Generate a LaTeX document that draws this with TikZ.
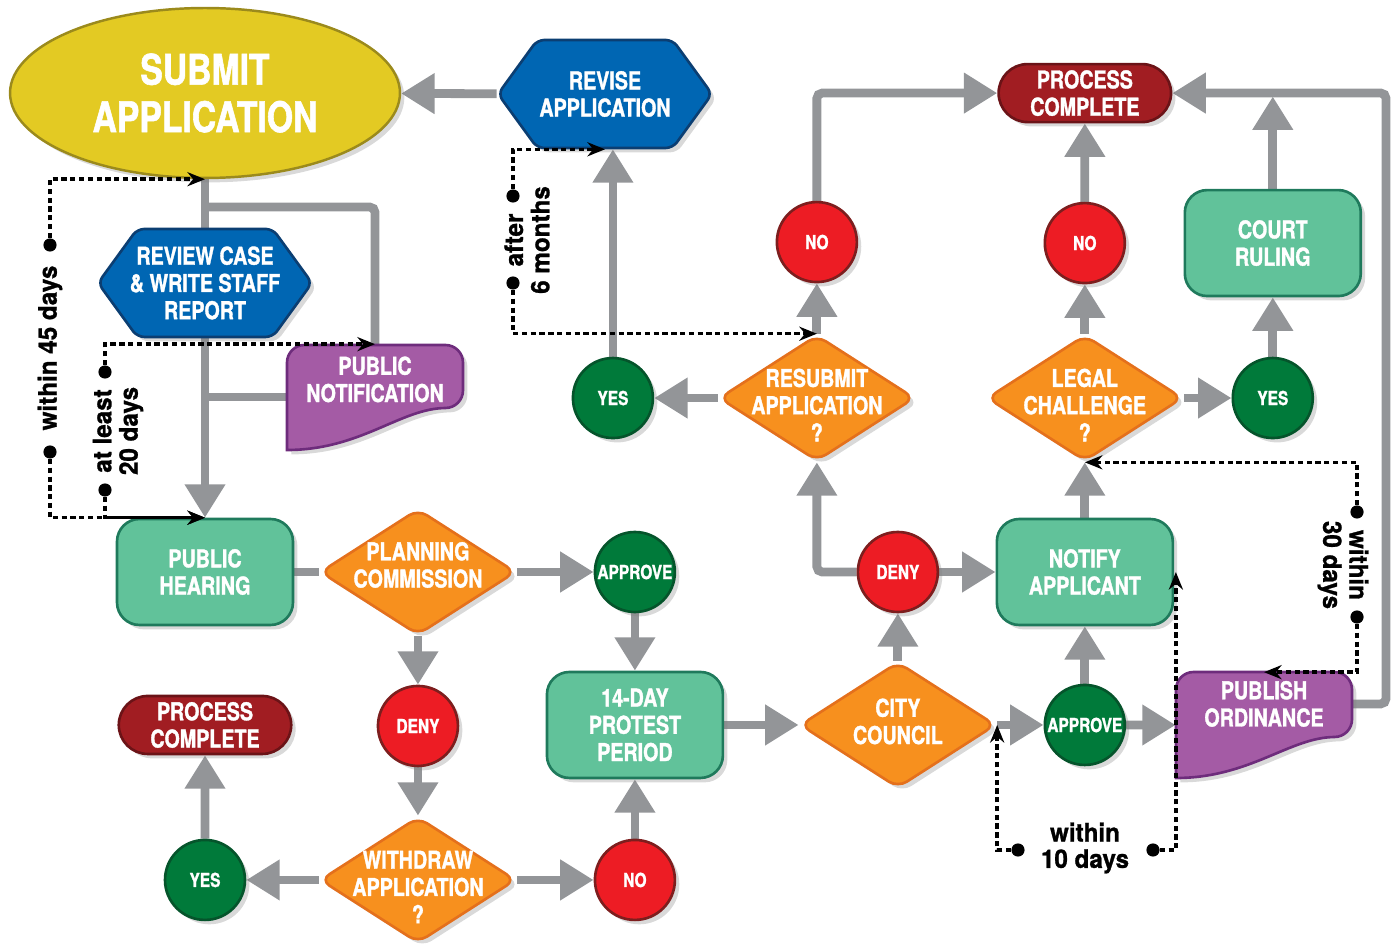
\documentclass[tikz,border=0pt]{standalone}
\usepackage{fontspec}
\newfontfamily\condfont{TeX Gyre Heros}[FakeStretch=0.8, FakeBold=1.3]
\newfontfamily\notefont{TeX Gyre Heros}[FakeStretch=0.95, FakeBold=1]
\usepackage{tikz}
\usetikzlibrary{arrows.meta, positioning, shapes.geometric, shapes.misc, shapes.symbols, shadows, backgrounds}

\definecolor{subYellow}{HTML}{E3CA23}
\definecolor{subEdge}{HTML}{9B8A1C}
\definecolor{revBlue}{HTML}{0066B3}
\definecolor{revEdge}{HTML}{0B3E72}
\definecolor{boxGreen}{HTML}{61C29A}
\definecolor{boxEdge}{HTML}{1F7A5C}
\definecolor{decOrange}{HTML}{F7901E}
\definecolor{decEdge}{HTML}{E4701C}
\definecolor{noRed}{HTML}{ED1C24}
\definecolor{noEdge}{HTML}{7D1E1E}
\definecolor{yesGreen}{HTML}{007A3A}
\definecolor{yesEdge}{HTML}{05542B}
\definecolor{endRed}{HTML}{A11D22}
\definecolor{endEdge}{HTML}{6B1317}
\definecolor{docPurple}{HTML}{A45BA5}
\definecolor{docEdge}{HTML}{6E2C7C}
\definecolor{flowGray}{HTML}{939598}

\begin{document}
\begin{tikzpicture}[x=0.02cm, y=-0.02cm, on grid]
  \tikzstyle{castshadow} = [drop shadow={opacity=0.3, shadow xshift=2.5pt, shadow yshift=-2.5pt}]
  \tikzstyle{txt} = [text=white, align=center, font={\condfont\bfseries\fontsize{14}{15.5}\selectfont}]
  \tikzstyle{oval} = [txt, castshadow, ellipse, draw=subEdge, line width=1.4pt, fill=subYellow, minimum width=7.8cm, minimum height=3.4cm, font={\condfont\bfseries\fontsize{24}{27}\selectfont}]
  \tikzstyle{box} = [txt, castshadow, rectangle, draw=boxEdge, line width=1.5pt, fill=boxGreen, rounded corners=0.45cm, minimum width=3.52cm, minimum height=2.12cm]
  \tikzstyle{stadium} = [txt, castshadow, rounded rectangle, draw=endEdge, line width=1.5pt, fill=endRed, minimum width=3.52cm, minimum height=1.16cm, inner sep=1pt]
  \tikzstyle{hexa} = [castshadow, signal, signal to=east and west, signal pointer angle=108, draw=revEdge, line width=1.5pt, fill=revBlue, rounded corners=4pt, minimum width=4.28cm, minimum height=2.16cm]
  \tikzstyle{decision} = [castshadow, diamond, draw=decEdge, line width=1.5pt, fill=decOrange, rounded corners=6pt, minimum width=3.92cm, minimum height=2.52cm, inner sep=0pt]
  \tikzstyle{answer} = [txt, castshadow, circle, line width=1.5pt, minimum size=1.6cm, inner sep=0pt, font={\condfont\bfseries\fontsize{11}{13}\selectfont}]
  \tikzstyle{yescirc} = [answer, fill=yesGreen, draw=yesEdge]
  \tikzstyle{nocirc} = [answer, fill=noRed, draw=noEdge]
  \tikzstyle{docnode} = [rectangle, minimum width=3.52cm, minimum height=2.1cm, inner sep=0pt]
  \tikzstyle{docshape} = [castshadow, draw=docEdge, line width=1.5pt, fill=docPurple]
  \tikzstyle{flow} = [color=flowGray, line width=5pt, rounded corners=3pt, -{Triangle[length=19pt,width=22pt]}]
  \tikzstyle{plain} = [draw=flowGray, line width=5pt, rounded corners=3pt]
  \tikzstyle{timing} = [draw=black, line width=2pt, dash pattern=on 3pt off 2pt, -{Stealth[length=10pt,width=8pt]}]
  \tikzstyle{tick} = [circle, fill=black, inner sep=0pt, minimum size=7.5pt]
  \tikzstyle{note} = [align=center, font={\notefont\bfseries\fontsize{14.5}{15}\selectfont}]

  \useasboundingbox (0,0) rectangle (1393,945);

  % left column
  \node[oval] (sub) at (205,93) {SUBMIT\\APPLICATION};
  \node[hexa, label={[txt]center:REVIEW CASE\\\& WRITE STAFF\\REPORT}] (rvw) [below=3.8cm of sub] {};
  \node[docnode, label={[txt,yshift=10pt]center:PUBLIC\\NOTIFICATION}] (pn) at (375,397) {};
  \node[box] (ph) at (205,572) {PUBLIC\\HEARING};
  \node[decision, label={[txt,yshift=4pt]center:PLANNING\\COMMISSION}] (pc) [right=4.26cm of ph] {};
  \node[yescirc] (apr1) [right=4.34cm of pc] {APPROVE};
  \node[nocirc] (dny1) [below=3.08cm of pc] {DENY};
  \node[decision, label={[txt,yshift=-4pt]center:WITHDRAW\\APPLICATION\\?}] (wd) [below=3.08cm of dny1] {};
  \node[yescirc] (yes1) [left=4.26cm of wd] {YES};
  \node[nocirc] (no1) [right=4.34cm of wd] {NO};
  \node[stadium] (done2) [above=3.1cm of yes1] {PROCESS\\COMPLETE};
  \node[box] (prt) [below=3.06cm of apr1] {14-DAY\\PROTEST\\PERIOD};

  % council and after
  \node[decision, label={[txt,yshift=2pt]center:CITY\\COUNCIL}] (cc) [right=5.26cm of prt] {};
  \node[nocirc] (dny2) [above=3.06cm of cc] {DENY};
  \node[yescirc] (apr2) [right=3.74cm of cc] {APPROVE};
  \node[box] (ntf) [above=3.06cm of apr2] {NOTIFY\\APPLICANT};
  \node[docnode, label={[txt,yshift=12pt]center:PUBLISH\\ORDINANCE}] (pub) at (1264,725) {};
  \node[decision, label={[txt,yshift=-4pt]center:LEGAL\\CHALLENGE\\?}] (lc) [above=3.48cm of ntf] {};
  \node[nocirc] (no3) [above=3.1cm of lc] {NO};
  \node[stadium] (done1) [above=3.0cm of no3] {PROCESS\\COMPLETE};
  \node[yescirc] (yes3) [right=3.76cm of lc] {YES};
  \node[box] (crt) [above=3.1cm of yes3] {COURT\\RULING};
  \node[decision, label={[txt,yshift=-4pt]center:RESUBMIT\\APPLICATION\\?}] (rs) [left=5.36cm of lc] {};
  \node[yescirc] (yes2) [left=4.08cm of rs] {YES};
  \node[nocirc] (no2) [above=3.12cm of rs] {NO};
  \node[hexa, label={[txt]center:REVISE\\APPLICATION}] (rev) at (605,94) {};

  \coordinate (split) at (205,207);
  \coordinate (rtop) at (1386,93);

  \begin{scope}[on background layer]
    \path[flow]
    (rev) edge (sub)
    (sub) edge (ph)
    (pc) edge (apr1)
    (apr1) edge (prt)
    (pc) edge (dny1)
    (dny1) edge (wd)
    (wd) edge (yes1)
    (yes1) edge (done2)
    (wd) edge (no1)
    (no1) edge (prt)
    (prt) edge (cc)
    (cc) edge (dny2)
    (cc) edge (apr2)
    (apr2) edge (ntf)
    (apr2) edge (pub)
    (dny2) edge (ntf)
    (ntf) edge (lc)
    (rs) edge (yes2)
    (rs) edge (no2)
    (lc) edge (no3)
    (no3) edge (done1)
    (lc) edge (yes3)
    (yes3) edge (crt);
    \draw[flow] (yes2.north) -- (yes2.north |- rev.south);
    \draw[flow] (no2.north) |- (done1.west);
    \draw[flow] (dny2.west) -| (rs.south);
    \draw[flow] ([yshift=12pt]pub.east) -| (rtop) -- (done1.east);
    \draw[flow, shorten >=2pt] (crt.north) -- (crt.north |- rtop);
    \draw[plain] (ph) -- (pc);
    \draw[plain] (split) -| (pn.north);
    \draw[plain] (pn.west) -- (pn.west -| ph.north);

    % document outlines
    \path[docshape] (287,450) [rounded corners=10pt] -- (287,345) -- (463,345) -- (463,408) [sharp corners] -- (446,408) .. controls (401,408) and (361,450) .. (287,450) -- cycle;
    \path[docshape] (1176,778) [rounded corners=10pt] -- (1176,672) -- (1352,672) -- (1352,737) [sharp corners] -- (1335,737) .. controls (1290,737) and (1250,778) .. (1176,778) -- cycle;
  \end{scope}

  % time limits
  \node[tick] (t1) at (50,245) {};
  \node[tick] (t2) at (50,452) {};
  \node[note, rotate=90] (w45) at (50,348) {within 45 days};
  \draw[timing] (t1) |- (sub.south);
  \draw[timing] (t2) |- (ph.north);

  \node[tick] (t3) at (105,372) {};
  \node[tick] (t4) at (105,490) {};
  \node[note, rotate=90] (w20) at (118,431) {at least\\20 days};
  \draw[timing] (t3) |- (pn.north);
  \draw[timing] (t4) |- (ph.north);

  \node[tick] (t5) at (513,196) {};
  \node[tick] (t6) at (513,283) {};
  \node[note, rotate=90] (a6) at (527,240) {after\\6 months};
  \draw[timing] (t5) |- (rev.south);
  \draw[timing] (t6) |- (rs.north);

  \node[tick] (t7) at (1357,512) {};
  \node[tick] (t8) at (1357,617) {};
  \node[note, rotate=-90] (w30) at (1343,565) {within\\30 days};
  \draw[timing] (t7) |- (lc.south);
  \draw[timing] (t8) |- (pub.north);

  \node[tick] (t9) at (1018,850) {};
  \node[tick] (t10) at (1153,850) {};
  \node[note] (w10) at (1085,848) {within\\10 days};
  \draw[timing] (t9) -| (cc.east);
  \draw[timing] (t10) -| ([xshift=1pt]ntf.east);
\end{tikzpicture}
\end{document}
